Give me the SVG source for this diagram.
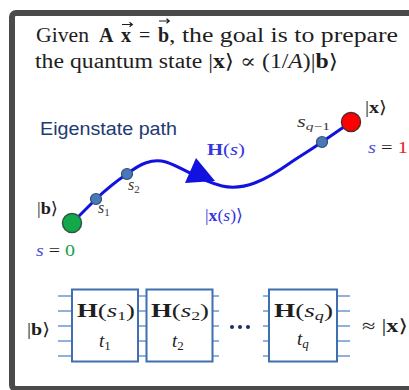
<svg xmlns="http://www.w3.org/2000/svg" width="409" height="390" viewBox="0 0 409 390">
<style>
.m{font-family:"Liberation Serif","DejaVu Serif",serif;fill:#1e1e1e}
.b{font-weight:bold}
.i{font-style:italic}
.blue{fill:#3535e0}
.sb{fill:#4f4fd8}
.lbl{font-family:"Liberation Serif","DejaVu Serif",serif;font-style:italic;fill:#3a3a3a}
.box{fill:#fff;stroke:#3f6fae;stroke-width:2}
.wire{stroke:#6a98d4;stroke-width:1.6}
.dot{fill:#4a78b4;stroke:#2c4f80;stroke-width:1.2}
.acc{fill:none;stroke:#1e1e1e;stroke-width:1.2}
</style>
<rect width="409" height="390" fill="#fff"/>
<rect x="12" y="13" width="420" height="376" rx="4" fill="#fff" stroke="#4a4a4a" stroke-width="6"/>

<g id="title">
<text class="m" x="36" y="42" font-size="20" textLength="53" lengthAdjust="spacingAndGlyphs">Given</text>
<text class="m b" x="99" y="42" font-size="20">A</text>
<text class="m b" x="121" y="42" font-size="20">x</text>
<text class="m" x="139" y="42" font-size="20">=</text>
<text class="m b" x="158" y="42" font-size="20">b</text>
<text class="m" x="169" y="42" font-size="20" textLength="229" lengthAdjust="spacingAndGlyphs">, the goal is to prepare</text>
<path class="acc" d="M122,24.5H132M129.5,22.3L132.3,24.5L129.5,26.7"/>
<path class="acc" d="M159,21H169M166.5,18.8L169.3,21L166.5,23.2"/>
<text class="m" x="35" y="68" font-size="20" textLength="303" lengthAdjust="spacingAndGlyphs">the quantum state |<tspan class="b">x</tspan>⟩ ∝ (1/<tspan class="i">A</tspan>)|<tspan class="b">b</tspan>⟩</text>
</g>

<g id="path-title">
<text x="40" y="135" font-family="'Liberation Sans','DejaVu Sans',sans-serif" font-size="19" fill="#203a72" textLength="137" lengthAdjust="spacingAndGlyphs">Eigenstate path</text>
</g>

<g id="connectors">
<path d="M72,223 L96,199 Q112,184 127,174 C140,164 152,158 166,162 C182,167 200,181 222,186 C244,191 266,180 290,163 C302,155 312,149 322,142 L351,122" fill="none" stroke="#1212e0" stroke-width="3"/>
<polygon points="185,183 196,158 215,181" fill="#1212e0"/>
<g class="wire">
<path d="M58,296H72M58,311H72M58,326H72M58,341H72M58,356H72"/>
<path d="M138,296H147M138,311H147M138,326H147M138,341H147M138,356H147"/>
<path d="M212,296H219M212,311H219M212,326H219M212,341H219M212,356H219"/>
<path d="M263,296H269M263,311H269M263,326H269M263,341H269M263,356H269"/>
<path d="M337,296H350M337,311H350M337,326H350M337,341H350M337,356H350"/>
</g>
</g>

<g id="node-start">
<circle cx="72" cy="223" r="9.5" fill="#14a84c" stroke="#2b5a40" stroke-width="1.5"/>
<text class="m" x="37" y="214" font-size="17" textLength="21" lengthAdjust="spacingAndGlyphs">|<tspan class="b">b</tspan>⟩</text>
<text class="m" x="36" y="256" font-size="17" textLength="39" lengthAdjust="spacingAndGlyphs"><tspan class="i sb">s</tspan> = <tspan fill="#1aa04a">0</tspan></text>
</g>
<g id="node-s1">
<circle class="dot" cx="96" cy="199" r="5.5"/>
<text class="lbl" x="98" y="213" font-size="16">s<tspan dy="3" font-size="11" font-style="normal">1</tspan></text>
</g>
<g id="node-s2">
<circle class="dot" cx="127" cy="174" r="5.5"/>
<text class="lbl" x="128" y="190" font-size="16">s<tspan dy="3" font-size="11" font-style="normal">2</tspan></text>
</g>
<g id="node-sq1">
<circle class="dot" cx="322" cy="142" r="5.5"/>
<text class="lbl" x="297" y="127" font-size="16" textLength="33" lengthAdjust="spacingAndGlyphs">s<tspan dy="3" font-size="11">q</tspan><tspan font-size="11" font-style="normal">−1</tspan></text>
</g>
<g id="node-end">
<circle cx="351" cy="122" r="9.5" fill="#ff0000" stroke="#5a2a2a" stroke-width="1.5"/>
<text class="m" x="365" y="113" font-size="17" textLength="22" lengthAdjust="spacingAndGlyphs">|<tspan class="b">x</tspan>⟩</text>
<text class="m" x="368" y="153" font-size="17" textLength="40" lengthAdjust="spacingAndGlyphs"><tspan class="i sb">s</tspan> = <tspan fill="#ee1c24">1</tspan></text>
</g>
<g id="labels-path">
<text class="m blue" x="207" y="155" font-size="17" textLength="38" lengthAdjust="spacingAndGlyphs"><tspan class="b">H</tspan>(<tspan class="i">s</tspan>)</text>
<text class="m blue" x="205" y="221" font-size="17" textLength="38" lengthAdjust="spacingAndGlyphs">|<tspan class="b">x</tspan>(<tspan class="i">s</tspan>)⟩</text>
</g>

<g id="input">
<text class="m" x="27" y="335" font-size="17" textLength="23" lengthAdjust="spacingAndGlyphs">|<tspan class="b">b</tspan>⟩</text>
</g>
<g id="box1">
<rect class="box" x="72" y="289.5" width="66" height="72"/>
<text class="m" x="77" y="317" font-size="18" textLength="58" lengthAdjust="spacingAndGlyphs"><tspan class="b">H</tspan>(<tspan class="i">s</tspan><tspan dy="3" font-size="12">1</tspan><tspan dy="-3">)</tspan></text>
<text class="m" x="99" y="347" font-size="19"><tspan class="i">t</tspan><tspan dy="3" font-size="13">1</tspan></text>
</g>
<g id="box2">
<rect class="box" x="146.5" y="289.5" width="66" height="72"/>
<text class="m" x="151" y="317" font-size="18" textLength="58" lengthAdjust="spacingAndGlyphs"><tspan class="b">H</tspan>(<tspan class="i">s</tspan><tspan dy="3" font-size="12">2</tspan><tspan dy="-3">)</tspan></text>
<text class="m" x="172" y="347" font-size="19"><tspan class="i">t</tspan><tspan dy="3" font-size="13">2</tspan></text>
</g>
<g id="dots">
<circle cx="232" cy="327" r="2" fill="#1c2a6a"/>
<circle cx="240" cy="327" r="2" fill="#1c2a6a"/>
<circle cx="248" cy="327" r="2" fill="#1c2a6a"/>
</g>
<g id="box3">
<rect class="box" x="269" y="289.5" width="68" height="72"/>
<text class="m" x="274" y="317" font-size="18" textLength="59" lengthAdjust="spacingAndGlyphs"><tspan class="b">H</tspan>(<tspan class="i">s</tspan><tspan dy="3" font-size="12" class="i">q</tspan><tspan dy="-3">)</tspan></text>
<text class="m" x="297" y="345" font-size="19"><tspan class="i">t</tspan><tspan dy="3" font-size="13" class="i">q</tspan></text>
</g>
<g id="output">
<text class="m" x="362" y="332" font-size="18" textLength="46" lengthAdjust="spacingAndGlyphs">≈ |<tspan class="b">x</tspan>⟩</text>
</g>
</svg>
